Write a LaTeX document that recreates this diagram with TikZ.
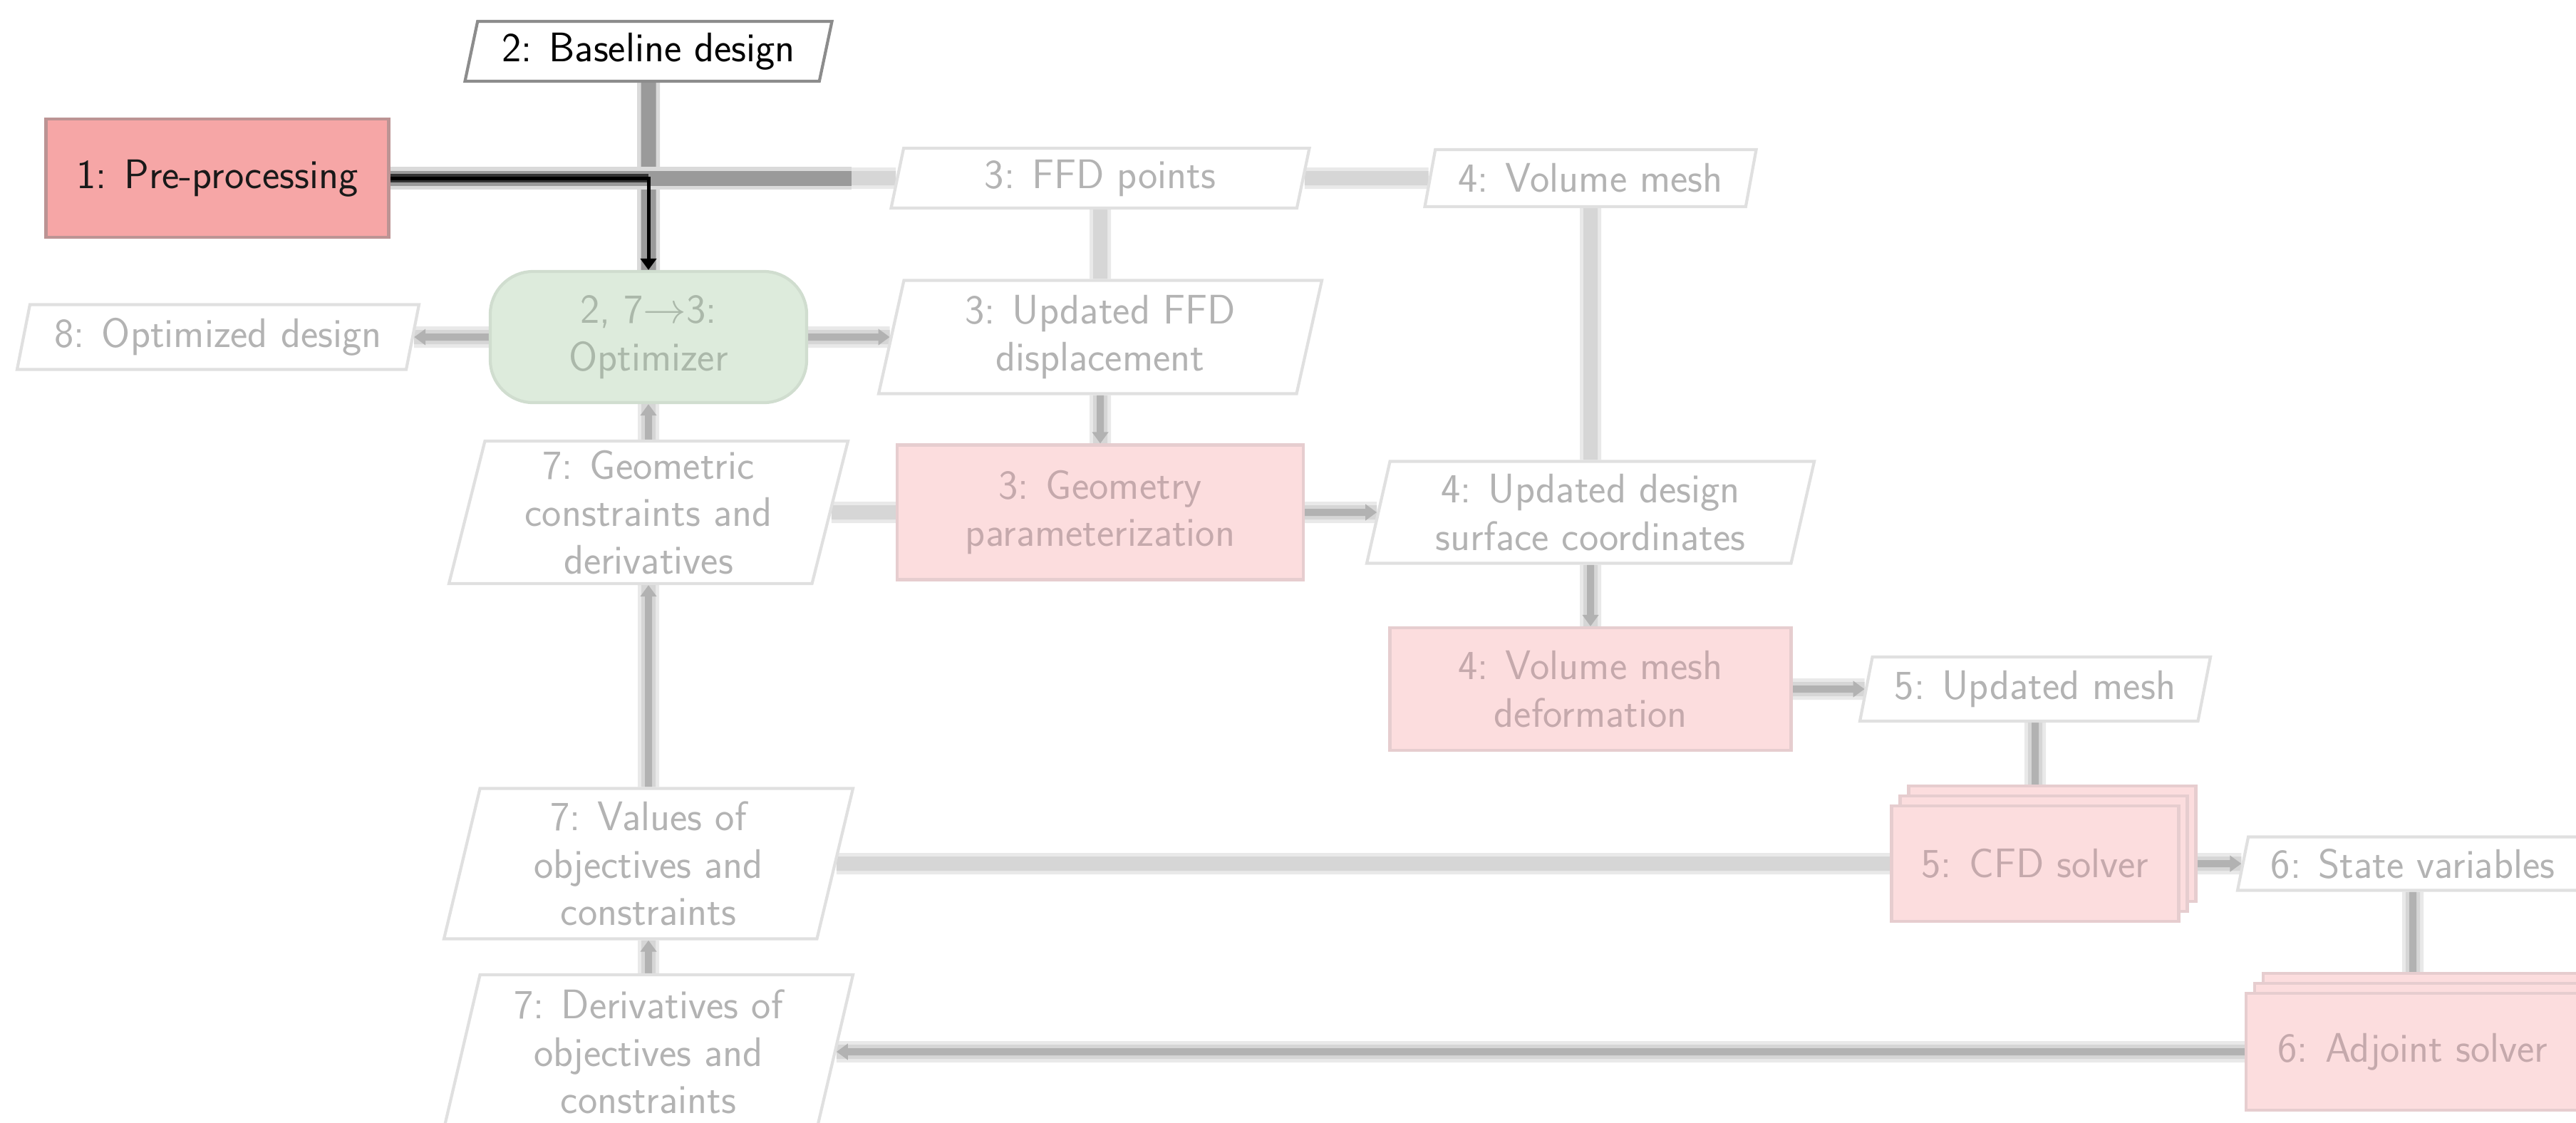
\documentclass[tikz,border=0pt]{standalone}
\usepackage{tikz}
\usetikzlibrary{arrows.meta,shapes.geometric,shadows,backgrounds}

\definecolor{fcnFill}{HTML}{F6A6A6}
\definecolor{fcnLine}{HTML}{BC9494}
\definecolor{fcnFillF}{HTML}{FCDDDE}
\definecolor{fcnLineF}{HTML}{E6CDCF}
\definecolor{fcnTextF}{HTML}{C5A9AC}
\definecolor{optFillF}{HTML}{DDEBDC}
\definecolor{optLineF}{HTML}{D0DDCF}
\definecolor{optTextF}{HTML}{ABB8AA}
\definecolor{dataLine}{HTML}{8C8C8C}
\definecolor{dataLineF}{HTML}{E0E0E0}
\definecolor{dataTextF}{HTML}{B3B3B3}
\definecolor{wireCore}{HTML}{9A9A9A}
\definecolor{wireEdge}{HTML}{DADADA}
\definecolor{wireCoreF}{HTML}{D6D6D6}
\definecolor{wireEdgeF}{HTML}{E9E9E9}
\definecolor{procColF}{HTML}{B2B2B2}

\tikzset{
	every node/.style={font=\sffamily\fontsize{16.5}{19}\selectfont, align=center},
	fcn/.style={rectangle, draw=fcnLine, line width=1.2pt, fill=fcnFill, text=black!90},
	fcnF/.style={rectangle, draw=fcnLineF, line width=1.2pt, fill=fcnFillF, text=fcnTextF},
	optF/.style={rectangle, rounded corners=0.6cm, draw=optLineF, line width=1.2pt, fill=optFillF, text=optTextF},
	stack/.style={copy shadow={shadow xshift=0.24cm, shadow yshift=0.28cm, fill=fcnFillF, draw=fcnLineF},
		copy shadow={shadow xshift=0.12cm, shadow yshift=0.14cm, fill=fcnFillF, draw=fcnLineF}},
	data/.style={trapezium, trapezium left angle=75, trapezium right angle=105, trapezium stretches body,
		draw=dataLine, line width=1.2pt, fill=white, inner sep=2pt, text=black},
	dataF/.style={data, draw=dataLineF, text=dataTextF},
	wire/.style={draw=wireCore, line width=0.21cm, preaction={draw=wireEdge, line width=0.32cm}},
	wireF/.style={draw=wireCoreF, line width=0.2cm, preaction={draw=wireEdgeF, line width=0.3cm}},
	procCore/.style={draw=black!80, line width=0.12cm},
	proc/.style={draw=black, line width=0.05cm, ->},
	procF/.style={draw=procColF, line width=0.1cm},
}

\begin{document}
\begin{tikzpicture}[>={Triangle[length=0.16cm,width=0.22cm]}]
	\useasboundingbox (0,0) rectangle (36.15,-15.75);
	% tools
	\node[fcn, minimum width=4.81cm, minimum height=1.66cm] (pre) at (3.05,-2.50) {1: Pre-processing};
	\node[optF, minimum width=4.44cm, minimum height=1.84cm] (opt) at (9.10,-4.73) {2, 7$\rightarrow$3:\\Optimizer};
	\node[fcnF, minimum width=5.70cm, minimum height=1.89cm] (geo) at (15.44,-7.19) {3: Geometry\\parameterization};
	\node[fcnF, minimum width=5.63cm, minimum height=1.72cm] (mdef) at (22.32,-9.67) {4: Volume mesh\\deformation};
	\node[fcnF, stack, minimum width=4.03cm, minimum height=1.62cm] (cfd) at (28.56,-12.12) {5: CFD solver};
	\node[fcnF, stack, minimum width=4.68cm, minimum height=1.64cm] (adj) at (33.86,-14.76) {6: Adjoint solver};
	% data
	\node[data, minimum width=5.15cm, minimum height=0.84cm] (base) at (9.10,-0.72) {2: Baseline design};
	\node[dataF, minimum width=5.87cm, minimum height=0.84cm] (ffd) at (15.44,-2.50) {3: FFD points};
	\node[dataF, minimum width=4.65cm, minimum height=0.80cm] (vmesh) at (22.32,-2.50) {4: Volume mesh};
	\node[dataF, minimum width=5.64cm, minimum height=0.91cm] (optd) at (3.06,-4.73) {8: Optimized design};
	\node[dataF, minimum width=6.22cm, minimum height=1.59cm] (dffd) at (15.44,-4.73) {3: Updated FFD\\displacement};
	\node[dataF, minimum width=5.60cm, minimum height=2.00cm] (gconst) at (9.10,-7.19) {7: Geometric\\constraints and\\derivatives};
	\node[dataF, minimum width=6.28cm, minimum height=1.43cm] (dsurf) at (22.32,-7.19) {4: Updated design\\surface coordinates};
	\node[dataF, minimum width=4.92cm, minimum height=0.90cm] (umesh) at (28.56,-9.67) {5: Updated mesh};
	\node[dataF, minimum width=5.74cm, minimum height=2.11cm] (vals) at (9.10,-12.12) {7: Values of\\objectives and\\constraints};
	\node[dataF, minimum width=4.92cm, minimum height=0.75cm] (state) at (33.86,-12.12) {6: State variables};
	\node[dataF, minimum width=5.74cm, minimum height=2.16cm] (ders) at (9.10,-14.76) {7: Derivatives of\\objectives and\\constraints};

	\coordinate (jn) at (9.10,-2.50);
	\coordinate (fade) at (11.95,-2.50);

	\begin{scope}[on background layer]
		% data lines
		\path (base) edge[wire] (opt);
		\path (pre) edge[wire] (fade);
		\path (fade) edge[wireF] (ffd);
		\path (ffd) edge[wireF] (vmesh) edge[wireF] (dffd);
		\path (vmesh) edge[wireF] (dsurf);
		\path (opt) edge[wireF] (optd) edge[wireF] (dffd);
		\path (dffd) edge[wireF] (geo);
		\path (gconst) edge[wireF] (opt) edge[wireF] (geo);
		\path (vals) edge[wireF] (gconst) edge[wireF] (cfd);
		\path (ders) edge[wireF] (vals);
		\path (geo) edge[wireF] (dsurf);
		\path (dsurf) edge[wireF] (mdef);
		\path (mdef) edge[wireF] (umesh);
		\path (umesh) edge[wireF] (cfd);
		\path (cfd) edge[wireF] (state);
		\path (state) edge[wireF] (adj);
		\path (adj) edge[wireF] (ders);
		% process lines
		\path (pre) edge[procCore] (jn);
		\draw[proc] (pre.east) -| (opt.north);
		\path (opt) edge[procF,->] (optd) edge[procF,->] (dffd);
		\path (dffd) edge[procF,->] (geo);
		\path (geo) edge[procF,->] (dsurf);
		\path (dsurf) edge[procF,->] (mdef);
		\path (mdef) edge[procF,->] (umesh);
		\path (umesh) edge[procF] (cfd);
		\path (cfd) edge[procF,->] (state);
		\path (state) edge[procF] (adj);
		\path (adj) edge[procF,->] (ders);
		\path (ders) edge[procF,->] (vals);
		\path (vals) edge[procF,->] (gconst);
		\path (gconst) edge[procF,->] (opt);
	\end{scope}
\end{tikzpicture}
\end{document}
